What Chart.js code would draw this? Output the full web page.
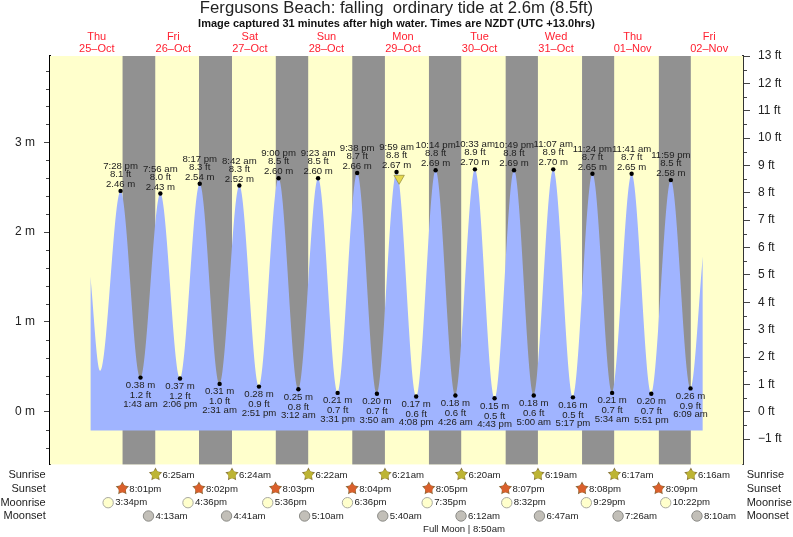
<!DOCTYPE html>
<html>
<head>
<meta charset="utf-8">
<style>html,body{margin:0;padding:0;background:#fff}canvas{display:block}</style>
<script src="https://cdn.jsdelivr.net/npm/chart.js@4"></script>
</head>
<body>
<canvas id="c" width="793" height="537"></canvas>
<script>
const dayNames = ['Thu','Fri','Sat','Sun','Mon','Tue','Wed','Thu','Fri'];
const dayDates = ['25–Oct','26–Oct','27–Oct','28–Oct','29–Oct','30–Oct','31–Oct','01–Nov','02–Nov'];
const meterTicks = [0,1,2,3];
const feetTicks = [-1,0,1,2,3,4,5,6,7,8,9,10,11,12,13];

const tideDay = [0,1,1,1,1,2,2,2,2,3,3,3,3,4,4,4,4,5,5,5,5,6,6,6,6,7,7,7,7,8];
const tideClock = ['7:28 pm','1:43 am','7:56 am','2:06 pm','8:17 pm','2:31 am','8:42 am','2:51 pm','9:00 pm','3:12 am',
  '9:23 am','3:31 pm','9:38 pm','3:50 am','9:59 am','4:08 pm','10:14 pm','4:26 am','10:33 am','4:43 pm',
  '10:49 pm','5:00 am','11:07 am','5:17 pm','11:24 pm','5:34 am','11:41 am','5:51 pm','11:59 pm','6:09 am'];
const tideMeters = [2.46,0.38,2.43,0.37,2.54,0.31,2.52,0.28,2.60,0.25,2.60,0.21,2.66,0.20,2.67,0.17,2.69,0.18,2.70,0.15,
  2.69,0.18,2.70,0.16,2.65,0.21,2.65,0.20,2.58,0.26];
const tideFeet = [8.1,1.2,8.0,1.2,8.3,1.0,8.3,0.9,8.5,0.8,8.5,0.7,8.7,0.7,8.8,0.6,8.8,0.6,8.9,0.5,8.8,0.6,8.9,0.5,8.7,0.7,8.7,0.7,8.5,0.9];
// unlabelled ends of the curve: [hour since 25 Oct 00:00, metres]
const curveHead = [[10.0,1.505],[13.1,0.457]];
const curveTail = [[202.0,1.73]];

const sunsetDay = [0,1,2,3,4,5,6,7];
const sunsetClock = ['8:01pm','8:02pm','8:03pm','8:04pm','8:05pm','8:07pm','8:08pm','8:09pm'];
const sunriseDay = [1,2,3,4,5,6,7,8];
const sunriseClock = ['6:25am','6:24am','6:22am','6:21am','6:20am','6:19am','6:17am','6:16am'];
const moonriseDay = [0,1,2,3,4,5,6,7];
const moonriseClock = ['3:34pm','4:36pm','5:36pm','6:36pm','7:35pm','8:32pm','9:29pm','10:22pm'];
const moonsetDay = [1,2,3,4,5,6,7,8];
const moonsetClock = ['4:13am','4:41am','5:10am','5:40am','6:12am','6:47am','7:26am','8:10am'];

const xMin = -2.66, xMax = 214.6, yMin = -0.59, yMax = 3.9624, tideBase = -0.21;
const nowHour = 106.8, nowLevel = 2.6;
const INK = '#222', FONT = '"Liberation Sans", Arial, sans-serif';

function hourOf(day, clock) {
  const m = clock.match(/(\d+):(\d+)\s*(am|pm)/);
  return day * 24 + (+m[1] % 12) + (m[3] === 'pm' ? 12 : 0) + (+m[2]) / 60;
}

const tideHours = tideClock.map((c, i) => hourOf(tideDay[i], c));
const tideCurve = [
  ...curveHead.map(p => ({x: p[0], y: p[1]})),
  ...tideHours.map((h, i) => ({x: h, y: tideMeters[i]})),
  ...curveTail.map(p => ({x: p[0], y: p[1]}))
];
const tideDots = tideCurve.map((p, i) =>
  (i < curveHead.length || i >= curveHead.length + tideHours.length) ? 0 : 2.2);

const nightSets = sunsetClock.map((c, i) => ({
  data: [{x: hourOf(sunsetDay[i], c), y: yMax}, {x: hourOf(sunriseDay[i], sunriseClock[i]), y: yMax}],
  fill: 'start', backgroundColor: '#919191', borderWidth: 0, pointRadius: 0, order: 10
}));

const overlay = {
  id: 'overlay',
  afterDatasetsDraw(chart) {
    const {ctx, scales: {x, y, ft}} = chart;
    ctx.save();
    // minor axis ticks
    ctx.lineWidth = 1;
    ctx.strokeStyle = '#444';
    for (let i = -2; i <= 19; i++) {
      const v = i * 0.2;
      if (Math.abs(v - Math.round(v)) < 1e-6) continue;
      const p = Math.round(y.getPixelForValue(v)) + 0.5;
      ctx.beginPath(); ctx.moveTo(46, p); ctx.lineTo(49, p); ctx.stroke();
    }
    for (let i = -1; i <= 12; i++) {
      const p = Math.round(ft.getPixelForValue(i + 0.5)) + 0.5;
      ctx.beginPath(); ctx.moveTo(744, p); ctx.lineTo(747, p); ctx.stroke();
    }
    // tide labels
    ctx.fillStyle = INK;
    ctx.textAlign = 'center';
    ctx.textBaseline = 'middle';
    ctx.font = '9.6px ' + FONT;
    tideHours.forEach((h, i) => {
      const px = x.getPixelForValue(h), py = y.getPixelForValue(tideMeters[i]);
      const high = tideMeters[i] > 1;
      const lines = [tideMeters[i].toFixed(2) + ' m', tideFeet[i].toFixed(1) + ' ft', tideClock[i]];
      const offs = high ? [-6.6, -16.6, -24.6] : [7.6, 17.7, 26.3];
      lines.forEach((t, k) => ctx.fillText(t, px, py + offs[k]));
    });
    // almanac rows
    const rows = [
      {name: 'Sunrise', y: 475, days: sunriseDay, clock: sunriseClock, kind: 'star', fill: '#BDB434', edge: '#8C7A3C'},
      {name: 'Sunset', y: 489, days: sunsetDay, clock: sunsetClock, kind: 'star', fill: '#D9602C', edge: '#8C6A3C'},
      {name: 'Moonrise', y: 502.7, days: moonriseDay, clock: moonriseClock, kind: 'disc', fill: '#FFFFCC', edge: '#A8A8A0'},
      {name: 'Moonset', y: 516, days: moonsetDay, clock: moonsetClock, kind: 'disc', fill: '#C2BFB8', edge: '#8C8C88'}
    ];
    rows.forEach(r => {
      ctx.fillStyle = INK;
      ctx.font = '11px ' + FONT;
      ctx.textAlign = 'right';
      ctx.fillText(r.name, 45.7, r.y);
      ctx.textAlign = 'left';
      ctx.fillText(r.name, 746.7, r.y);
      r.clock.forEach((c, i) => {
        const px = x.getPixelForValue(hourOf(r.days[i], c));
        if (r.kind === 'star') drawStar(ctx, px, r.y - 0.5, r.fill, r.edge);
        else {
          ctx.beginPath(); ctx.arc(px, r.y, 5.2, 0, Math.PI * 2);
          ctx.fillStyle = r.fill; ctx.fill();
          ctx.strokeStyle = r.edge; ctx.lineWidth = 1; ctx.stroke();
        }
        ctx.fillStyle = INK;
        ctx.font = '9.6px ' + FONT;
        ctx.textAlign = 'left';
        ctx.fillText(c, px + 7, r.y);
      });
    });
    ctx.textAlign = 'center';
    ctx.font = '9.6px ' + FONT;
    ctx.fillText('Full Moon | 8:50am', 464, 529.3);
    ctx.restore();
  }
};

function drawStar(ctx, cx, cy, fill, edge) {
  ctx.beginPath();
  for (let i = 0; i < 10; i++) {
    const r = i % 2 ? 3.6 : 7, a = -Math.PI / 2 + i * Math.PI / 5;
    ctx[i ? 'lineTo' : 'moveTo'](cx + r * Math.cos(a), cy + r * Math.sin(a));
  }
  ctx.closePath();
  ctx.fillStyle = edge; ctx.fill();
  ctx.beginPath();
  for (let i = 0; i < 5; i++) {
    const a = -Math.PI / 2 + i * 2 * Math.PI / 5;
    ctx[i ? 'lineTo' : 'moveTo'](cx + 4.8 * Math.cos(a), cy + 4.8 * Math.sin(a));
  }
  ctx.closePath();
  ctx.fillStyle = fill; ctx.fill();
}

new Chart(document.getElementById('c'), {
  type: 'line',
  data: {
    datasets: [
      {data: [{x: xMin, y: yMax}, {x: xMax, y: yMax}], fill: 'start', backgroundColor: '#FFFFCC', borderWidth: 0, pointRadius: 0, order: 20},
      ...nightSets,
      {data: tideCurve, fill: {value: tideBase}, backgroundColor: '#A0B4FF', borderWidth: 0, borderColor: 'rgba(0,0,0,0)',
       cubicInterpolationMode: 'monotone', pointRadius: tideDots, pointBackgroundColor: '#000', pointBorderWidth: 0, order: 5},
      {data: [{x: nowHour, y: nowLevel}], showLine: false, pointStyle: 'triangle', rotation: 180, pointRadius: 6,
       pointBackgroundColor: '#E6D84C', pointBorderColor: '#9A9440', pointBorderWidth: 0.8, order: 1}
    ]
  },
  options: {
    responsive: false,
    animation: false,
    events: [],
    layout: {padding: {left: 0, right: 0, top: 0, bottom: 72.3}},
    plugins: {
      legend: {display: false},
      tooltip: {enabled: false},
      title: {display: true, text: 'Fergusons Beach: falling  ordinary tide at 2.6m (8.5ft)', color: '#222',
        font: {family: FONT, size: 16.7, weight: 'normal', lineHeight: 16 / 16.7}, padding: 0},
      subtitle: {display: true, text: 'Image captured 31 minutes after high water. Times are NZDT (UTC +13.0hrs)', color: '#111',
        font: {family: FONT, size: 11, weight: 'bold', lineHeight: 14 / 11}, padding: {top: 1, bottom: 0}}
    },
    scales: {
      x: {
        type: 'linear', position: 'top', min: xMin, max: xMax,
        grid: {display: false}, border: {display: false},
        afterBuildTicks: s => { s.ticks = dayNames.map((_, i) => ({value: i * 24 + 12})); },
        afterFit: s => { s.height = 25; },
        ticks: {
          autoSkip: false, maxRotation: 0, padding: -7, color: '#FF2030',
          font: {family: FONT, size: 11, lineHeight: 12.3 / 11},
          callback: (v, i) => [dayNames[i], dayDates[i]]
        }
      },
      y: {
        type: 'linear', position: 'left', min: yMin, max: yMax,
        border: {color: '#000', width: 2},
        grid: {drawOnChartArea: false, tickLength: 6, tickColor: '#444', tickWidth: 1},
        afterBuildTicks: s => { s.ticks = meterTicks.map(v => ({value: v})); },
        afterFit: s => { s.width = 50; },
        ticks: {padding: 9, color: INK, font: {family: FONT, size: 12}, callback: v => v + ' m'}
      },
      ft: {
        type: 'linear', position: 'right', min: yMin / 0.3048, max: yMax / 0.3048,
        border: {color: '#333', width: 2},
        grid: {drawOnChartArea: false, tickLength: 7, tickColor: '#444', tickWidth: 1},
        afterBuildTicks: s => { s.ticks = feetTicks.map(v => ({value: v})); },
        afterFit: s => { s.width = 50; },
        ticks: {padding: 8, color: INK, font: {family: FONT, size: 12},
          callback: v => (v < 0 ? '−' + (-v) : v) + ' ft'}
      }
    }
  },
  plugins: [overlay]
});
</script>
</body>
</html>
